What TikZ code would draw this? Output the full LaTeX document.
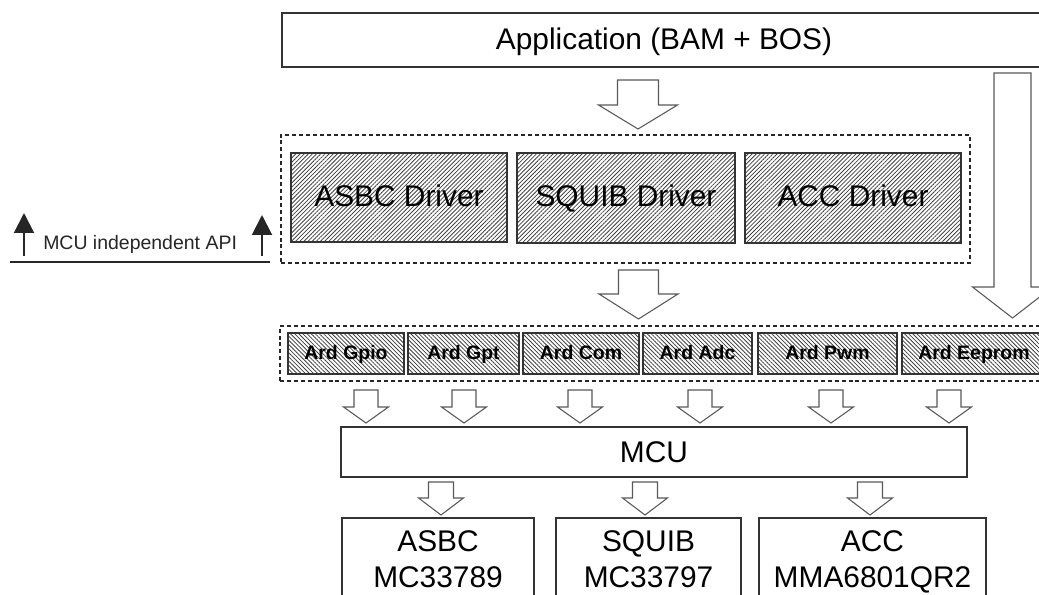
\documentclass[tikz,border=0pt]{standalone}
\usepackage{fontspec}
\setmainfont{Liberation Sans}
\usetikzlibrary{patterns.meta,fit,arrows.meta}

\tikzset{
  box/.style={draw=black!80, line width=0.8pt, inner sep=0pt, fill=white},
  bigtext/.style={font=\fontsize{22.4}{27}\selectfont, align=center, inner sep=0pt},
  ardtext/.style={font=\fontsize{14.6}{17}\selectfont\bfseries, inner sep=0pt},
  driverbox/.style={box,
    pattern={Lines[angle=45,distance=2.2pt,line width=0.6pt]}, pattern color=black!75},
  ardbox/.style={box,
    pattern={Lines[angle=-45,distance=2.2pt,line width=0.6pt]}, pattern color=black!75},
  grouping/.style={draw=black!85, line width=0.8pt, dash pattern=on 3pt off 2.2pt, inner sep=0pt},
  hollow/.style={draw=black!65, line width=0.8pt, fill=white, line join=miter},
  apiarrow/.style={line width=1.5pt, black!85, -{Triangle[width=15pt,length=15pt]}},
  pics/downarrow/.style n args={4}{code={
    \draw[hollow] (-#1,0) -- (#1,0) -- (#1,#3) -- (#2,#3) -- (0,#4)
      -- (-#2,#3) -- (-#1,#3) -- cycle;
  }},
}

\begin{document}
\begin{tikzpicture}[x=0.75pt,y=-0.75pt]
  \useasboundingbox (0,0) rectangle (1039,595);
  \clip (0,0) rectangle (1039,595);

  % application layer
  \node[box, fit={(282,13) (1046,67)}] (app) {};
  \node[bigtext, anchor=base] (app-t) at (app.center |- 0,50) {Application (BAM + BOS)};

  % driver layer
  \node[grouping, fit={(281,135) (970,263)}] (drivers) {};
  \node[driverbox, fit={(291,153) (507,242)}] (asbcdrv) {};
  \node[driverbox, fit={(517,153) (735,243)}] (squibdrv) {};
  \node[driverbox, fit={(745,153) (961,243)}] (accdrv) {};
  \node[bigtext, anchor=base] (asbcdrv-t) at (asbcdrv.center |- 0,207) {ASBC Driver};
  \node[bigtext, anchor=base] (squibdrv-t) at (squibdrv.center |- 0,207) {SQUIB Driver};
  \node[bigtext, anchor=base] (accdrv-t) at (accdrv.center |- 0,207) {ACC Driver};

  % abstraction layer
  \node[grouping, fit={(280,326) (1052,381)}] (ard) {};
  \node[ardbox, fit={(288,333) (404,374)}] (gpio) {};
  \node[ardbox, fit={(408,333) (519,374)}] (gpt) {};
  \node[ardbox, fit={(523,333) (639,374)}] (com) {};
  \node[ardbox, fit={(643,333) (752,374)}] (adc) {};
  \node[ardbox, fit={(758,333) (897,374)}] (pwm) {};
  \node[ardbox, fit={(902,333) (1046,374)}] (eeprom) {};
  \foreach \n/\t in {gpio/Ard Gpio, gpt/Ard Gpt, com/Ard Com, adc/Ard Adc,
                     pwm/Ard Pwm, eeprom/Ard Eeprom}
    \node[ardtext, anchor=base] (\n-t) at (\n.center |- 0,359) {\t};

  % microcontroller
  \node[box, fit={(341,427) (967,477)}] (mcu) {};
  \node[bigtext, anchor=base] (mcu-t) at (mcu.center |- 0,462) {MCU};

  % devices
  \node[box, fit={(342,518) (534,603)}] (asbc) {};
  \node[box, fit={(556,518) (741,603)}] (squib) {};
  \node[box, fit={(759,518) (986,603)}] (acc) {};
  \node[bigtext, anchor=south, text depth=0pt] (asbc-t) at (asbc.center |- 0,588) {ASBC\\MC33789};
  \node[bigtext, anchor=south, text depth=0pt] (squib-t) at (squib.center |- 0,588) {SQUIB\\MC33797};
  \node[bigtext, anchor=south, text depth=0pt] (acc-t) at (acc.center |- 0,588) {ACC\\MMA6801QR2};

  % data flow arrows
  \pic at (638,80) {downarrow={20.5}{39.5}{25}{49}};
  \pic at (638.5,270) {downarrow={20}{39.5}{24}{49}};
  \pic at (1012.5,73) {downarrow={18.5}{40}{214}{245}};
  \foreach \cx in {366,464,580,700,831,949}
    \pic at (\cx,390) {downarrow={12}{22.5}{17}{33}};
  \foreach \cx in {441,645,870}
    \pic at (\cx,482) {downarrow={12.5}{22.5}{16}{33}};

  % API boundary marker
  \coordinate (apiLb) at (24,256);
  \coordinate (apiLt) at (24,213);
  \coordinate (apiRb) at (262,256);
  \coordinate (apiRt) at (262,215);
  \coordinate (lineL) at (10,262);
  \coordinate (lineR) at (270,262);
  \draw[apiarrow] (apiLb) -- (apiLt);
  \draw[apiarrow] (apiRb) -- (apiRt);
  \draw[black!85, line width=0.8pt] (lineL) -- (lineR);
  \node[anchor=base west, inner sep=0pt, text=black!85,
        font=\fontsize{14.6}{17}\selectfont] (apitext) at (43,250) {MCU independent API};
\end{tikzpicture}
\end{document}
